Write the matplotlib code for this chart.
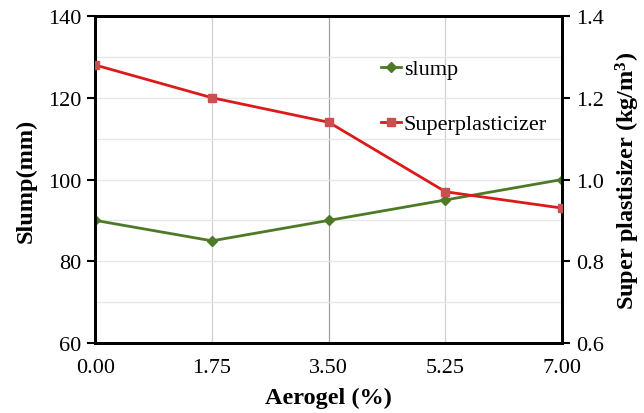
import numpy as np
import matplotlib
matplotlib.use('Agg')
import matplotlib.pyplot as plt

aerogel = [0.00, 1.75, 3.50, 5.25, 7.00]
slump = [90, 85, 90, 95, 100]
superplasticizer = [1.28, 1.20, 1.14, 0.97, 0.93]
x_labels = ['0.00', '1.75', '3.50', '5.25', '7.00']

plt.rcParams['font.family'] = ['Liberation Serif', 'DejaVu Serif']
plt.rcParams['font.size'] = 16
plt.rcParams['mathtext.fontset'] = 'custom'
plt.rcParams['mathtext.rm'] = 'Liberation Serif:bold'
plt.rcParams['mathtext.bf'] = 'Liberation Serif:bold'
plt.rcParams['mathtext.default'] = 'bf'

fig = plt.figure(figsize=(6.44, 4.14), dpi=100)
ax = fig.add_axes([0.148, 0.169, 0.725, 0.790])
ax2 = ax.twinx()

# light grid: vertical lines at the x ticks, horizontal every 10 mm
for xv in aerogel[1:-1]:
    ax.axvline(xv, color='#d0d0d0' if xv != 3.5 else '#a0a0a0', lw=0.9, zorder=0)
for yv in range(70, 140, 10):
    ax.axhline(yv, color='#e6e6e6', lw=0.9, zorder=0)

l1, = ax.plot(aerogel, slump, color='#4e7a27', lw=2, marker='D', ms=5,
              label='slump', zorder=3)
l2, = ax2.plot(aerogel, superplasticizer, color='#dd1a1a', lw=2, marker='s',
               ms=6, mfc='#c9504e', mec='#c9504e', label='Superplasticizer',
               zorder=3)

ax.set_xlim(0, 7)
ax.set_ylim(60, 140)
ax2.set_ylim(0.6, 1.4)
ax.set_xticks(aerogel)
ax.set_xticklabels(x_labels)
ax.set_yticks([60, 80, 100, 120, 140])
ax2.set_yticks([0.6, 0.8, 1.0, 1.2, 1.4])
ax2.set_yticklabels(['0.6', '0.8', '1.0', '1.2', '1.4'])

ax.tick_params(axis='x', length=0, pad=11)
ax.tick_params(axis='y', direction='out', length=6, width=1.5, pad=4)
ax2.tick_params(axis='y', direction='out', length=6, width=1.5, pad=4)

for a in (ax, ax2):
    for s in a.spines.values():
        s.set_linewidth(2)

ax.set_xlabel('Aerogel (%)', fontweight='bold', fontsize=17.5, labelpad=7)
ax.set_ylabel('Slump(mm)', fontweight='bold', fontsize=17.5, labelpad=8)
ax2.set_ylabel('Super plastisizer (kg/m$^3$)', fontweight='bold',
               fontsize=17.5, labelpad=7)

ax.legend([l1, l2], ['slump', 'Superplasticizer'], loc='upper left',
          bbox_to_anchor=(0.57, 0.93), frameon=False, handlelength=0.9,
          handletextpad=0.1, labelspacing=1.55, fontsize=16)

fig.savefig('out.png', dpi=100)
